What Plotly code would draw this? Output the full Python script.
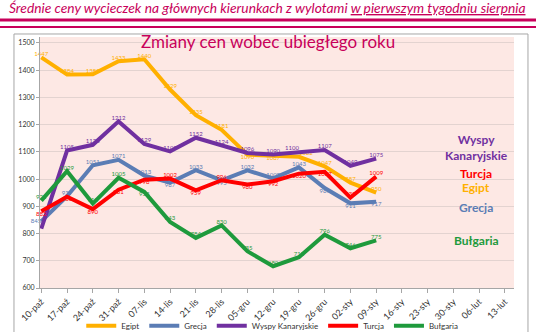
import plotly.graph_objects as go

categories = ["10-paź", "17-paź", "24-paź", "31-paź", "07-lis", "14-lis", "21-lis", "28-lis",
              "05-gru", "12-gru", "19-gru", "26-gru", "02-sty", "09-sty", "16-sty", "23-sty",
              "30-sty", "06-lut", "13-lut"]

egipt = [1447, 1384, 1385, 1433, 1440, 1329, 1235, 1181, 1090, 1087, 1082, 1047, 987, 950]
grecja = [845, 937, 1051, 1071, 1013, 987, 1033, 995, 1032, 1003, 1043, 967, 911, 917]
wyspy = [818, 1105, 1126, 1212, 1129, 1102, 1152, 1124, 1096, 1090, 1100, 1107, 1049, 1075]
turcja = [882, 935, 890, 961, 998, 1002, 959, 996, 980, 992, 1020, 1027, 932, 1009]
bulgaria = [921, 1029, 910, 1005, 953, 843, 784, 830, 735, 680, 713, 796, 746, 775]

series_names = ["Egipt", "Grecja", "Wyspy Kanaryjskie", "Turcja", "Bułgaria"]
series_values = [egipt, grecja, wyspy, turcja, bulgaria]
colors = ["#FFB000", "#5B7DB5", "#7030A0", "#FF0000", "#1E9A3C"]

T, B, L = "top center", "bottom center", "middle left"
TR, TL = "top right", "top left"
positions = [
    [T, T, T, T, T, T, T, T, B, B, TR, T, T, T],
    [L, T, T, T, T, B, T, B, T, T, T, B, B, B],
    [T, T, T, T, T, T, T, T, T, T, TL, T, T, T],
    [B, B, B, B, B, T, B, T, B, B, B, B, T, T],
    [T, T, T, T, B, T, T, T, T, T, T, T, T, T],
]
show_first = [True, True, False, True, True]

fig = go.Figure()
for name, vals, col, pos, sf in zip(series_names, series_values, colors, positions, show_first):
    texts = [str(v) for v in vals]
    if not sf:
        texts[0] = ""
    fig.add_trace(go.Scatter(
        x=categories[:len(vals)], y=vals, name=name, mode="lines+text",
        line=dict(color=col, width=4),
        text=texts, textposition=pos,
        textfont=dict(size=6, color=col, family="Lato"),
        cliponaxis=False,
    ))

fig.update_layout(
    width=536, height=332,
    margin=dict(l=40, r=22, t=37, b=44, autoexpand=False),
    paper_bgcolor="white",
    plot_bgcolor="#FDE8E4",
    showlegend=True,
    legend=dict(orientation="h", x=0.49, xanchor="center", y=-0.15, yanchor="middle",
                font=dict(size=8, color="#333333", family="Lato"),
                itemwidth=30, tracegroupgap=0, bgcolor="rgba(0,0,0,0)"),
    font=dict(family="Lato"),
)
fig.update_xaxes(
    type="category", categoryorder="array", categoryarray=categories,
    range=[-0.05, 18.35], tickangle=-45, tickfont=dict(size=9, color="#333333"),
    showgrid=False, showline=True, linecolor="#A6A6A6", linewidth=1,
    ticks="outside", ticklen=4, tickcolor="#A6A6A6", automargin=False,
)
fig.update_yaxes(
    range=[600, 1522], tickvals=[600, 700, 800, 900, 1000, 1100, 1200, 1300, 1400, 1500],
    tickfont=dict(size=7, color="#333333"), showgrid=True, gridcolor="#E3D3D0",
    showline=True, linecolor="#A6A6A6", linewidth=1, ticks="outside", ticklen=3,
    tickcolor="#A6A6A6", zeroline=False, automargin=False,
)

# chart border box
fig.add_shape(type="rect", xref="paper", yref="paper", x0=-0.0549, x1=1.0295, y0=-0.4, y1=1.012,
              line=dict(color="#A6A6A6", width=1), fillcolor="rgba(0,0,0,0)", layer="below")
# header lines
fig.add_shape(type="line", xref="paper", yref="paper", x0=-0.2, x1=1.2, y0=(288 - 20) / 251, y1=(288 - 20) / 251,
              line=dict(color="#C8005A", width=3))
fig.add_shape(type="line", xref="paper", yref="paper", x0=-0.2, x1=1.2, y0=(288 - 27) / 251, y1=(288 - 27) / 251,
              line=dict(color="#C8005A", width=2))

fig.add_annotation(xref="paper", yref="paper", x=(267 - 40) / 474, y=(288 - 7) / 251,
                   text="<i>Średnie ceny wycieczek na głównych kierunkach z wylotami <u>w pierwszym tygodniu sierpnia</u></i>",
                   showarrow=False, font=dict(size=13.8, color="#C8005A", family="Lato"),
                   xanchor="center", yanchor="middle")
fig.add_annotation(xref="paper", yref="paper", x=(268 - 40) / 474, y=(288 - 42) / 251,
                   text="Zmiany cen wobec ubiegłego roku",
                   showarrow=False, font=dict(size=17, color="#C8005A", family="Lato"),
                   xanchor="center", yanchor="middle")

side_labels = [("Wyspy<br>Kanaryjskie", 147, "#7030A0"), ("Turcja", 173, "#FF0000"),
               ("Egipt", 187, "#FFB000"), ("Grecja", 207, "#5B7DB5"), ("Bułgaria", 240, "#1E9A3C")]
for txt, py, col in side_labels:
    fig.add_annotation(xref="paper", yref="paper", x=(476 - 40) / 474, y=(288 - py) / 251,
                       text="<b>" + txt + "</b>", showarrow=False,
                       font=dict(size=12, color=col, family="Lato"), xanchor="center", yanchor="middle")

fig.write_html("out.html")
